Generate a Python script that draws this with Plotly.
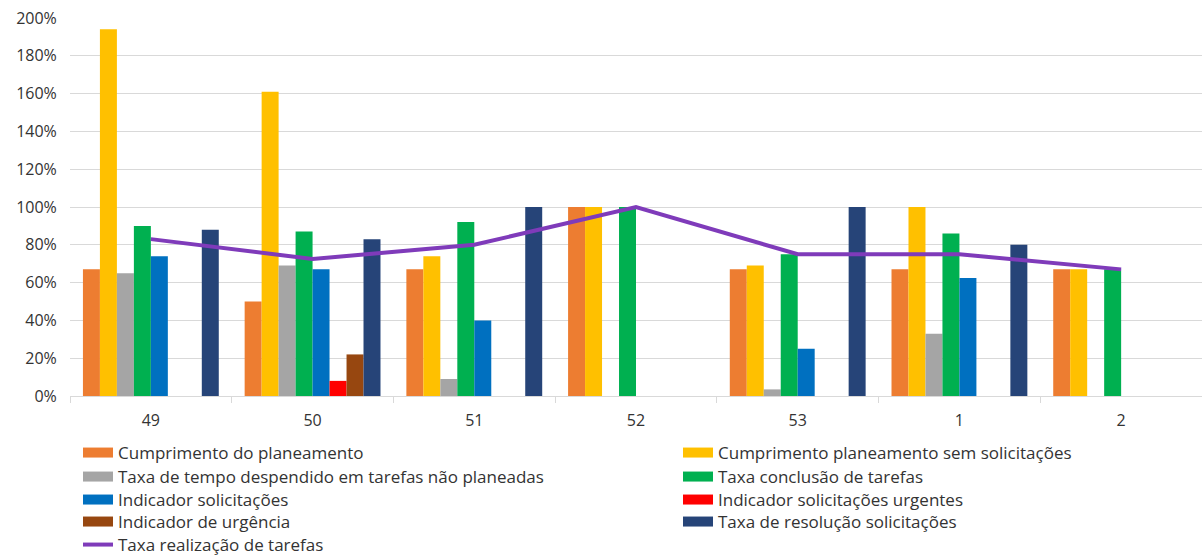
import plotly.graph_objects as go

categories = ["49", "50", "51", "52", "53", "1", "2"]

cumprimento_planeamento = [67, 50, 67, 100, 67, 67, 67]
cumprimento_sem_solicitacoes = [194, 161, 74, 100, 69, 100, 67]
taxa_tempo_nao_planeadas = [65, 69, 9, None, 3.5, 33, None]
taxa_conclusao_tarefas = [90, 87, 92, 100, 75, 86, 67]
indicador_solicitacoes = [74, 67, 40, None, 25, 62.5, None]
indicador_solicitacoes_urgentes = [None, 8, None, None, None, None, None]
indicador_urgencia = [None, 22, None, None, None, None, None]
taxa_resolucao_solicitacoes = [88, 83, 100, None, 100, 80, None]
taxa_realizacao_tarefas = [83, 72.5, 80, 100, 75, 75, 67]

bar_series = [
    ("Cumprimento do planeamento", cumprimento_planeamento, "#ED7D31"),
    ("Cumprimento planeamento sem solicitações", cumprimento_sem_solicitacoes, "#FFC000"),
    ("Taxa de tempo despendido em tarefas não planeadas", taxa_tempo_nao_planeadas, "#A5A5A5"),
    ("Taxa conclusão de tarefas", taxa_conclusao_tarefas, "#00B050"),
    ("Indicador solicitações", indicador_solicitacoes, "#0070C0"),
    ("Indicador solicitações urgentes", indicador_solicitacoes_urgentes, "#FF0000"),
    ("Indicador de urgência", indicador_urgencia, "#974710"),
    ("Taxa de resolução solicitações", taxa_resolucao_solicitacoes, "#264478"),
]
line_name = "Taxa realização de tarefas"
line_color = "#7F3BBA"

def frac(vals):
    return [None if v is None else v / 100 for v in vals]

# legend grid: 2 columns, rows in reading order
col_x = [0.00707, 0.5371]
row_y = [-0.1508, -0.2143, -0.2751, -0.3333, -0.3942]
legend_ids = ["legend"] + [f"legend{i}" for i in range(2, 10)]

fig = go.Figure()
for name, vals, color in bar_series:
    fig.add_trace(go.Bar(
        x=categories, y=frac(vals), name=name, legendgroup=name,
        marker=dict(color=color, line=dict(width=0)), showlegend=False,
    ))

# legend entries (wide rectangle swatches like the original)
for i, (name, vals, color) in enumerate(bar_series):
    fig.add_trace(go.Scatter(
        x=[None], y=[None], name=name, legendgroup=name, legend=legend_ids[i],
        mode="lines", line=dict(color=color, width=10), hoverinfo="skip",
    ))

fig.add_trace(go.Scatter(
    x=categories, y=frac(taxa_realizacao_tarefas), name=line_name,
    mode="lines", line=dict(color=line_color, width=4), legend=legend_ids[8],
))

font_family = "'Open Sans', 'Noto Sans', sans-serif"
txt = "#333333"

legends = {}
for i, lid in enumerate(legend_ids):
    legends[lid] = dict(
        orientation="v", yanchor="middle", xanchor="left",
        x=col_x[i % 2], y=row_y[i // 2],
        font=dict(family=font_family, size=17, color=txt),
        itemwidth=30, bgcolor="rgba(0,0,0,0)", borderwidth=0,
    )

fig.update_layout(
    width=1202, height=555,
    margin=dict(l=70, r=0, t=18, b=159, autoexpand=False),
    paper_bgcolor="white", plot_bgcolor="white",
    barmode="group", bargap=0.16, bargroupgap=0,
    font=dict(family=font_family, size=16, color=txt),
    showlegend=True,
    xaxis=dict(
        type="category", showgrid=False, showline=True, linecolor="#D9D9D9", linewidth=1,
        ticks="outside", tickson="boundaries", ticklen=6, tickcolor="#D9D9D9",
        ticklabelstandoff=10,
        tickfont=dict(size=16, color=txt),
    ),
    yaxis=dict(
        range=[0, 2.0], dtick=0.2, tickformat=".0%",
        showgrid=True, gridcolor="#D9D9D9", gridwidth=1,
        zeroline=False, showline=False,
        ticks="outside", ticklen=9, tickcolor="rgba(0,0,0,0)",
        tickfont=dict(size=16, color=txt),
    ),
    **legends,
)

fig.write_html("out.html")
